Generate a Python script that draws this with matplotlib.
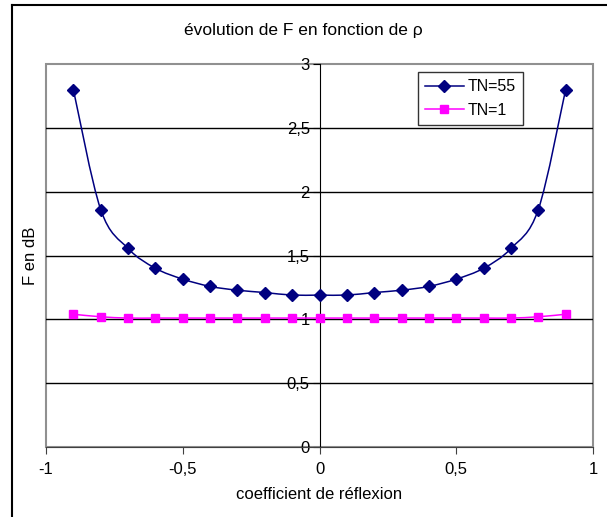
import matplotlib
matplotlib.use('Agg')
import matplotlib.pyplot as plt
import numpy as np
from matplotlib.path import Path
from matplotlib.patches import PathPatch, Rectangle
from matplotlib.lines import Line2D
from matplotlib.ticker import FuncFormatter

plt.rcParams['font.family'] = ['Liberation Sans', 'DejaVu Sans']
narrow = ['Liberation Sans Narrow', 'Liberation Sans', 'DejaVu Sans']

# data
rho = [-0.9, -0.8, -0.7, -0.6, -0.5, -0.4, -0.3, -0.2, -0.1, 0.0,
       0.1, 0.2, 0.3, 0.4, 0.5, 0.6, 0.7, 0.8, 0.9]
f_tn55 = [2.80, 1.86, 1.555, 1.40, 1.315, 1.258, 1.228, 1.21, 1.19, 1.19,
          1.19, 1.21, 1.228, 1.258, 1.315, 1.40, 1.555, 1.86, 2.80]
f_tn1 = [1.04, 1.02, 1.01, 1.01, 1.01, 1.01, 1.01, 1.01, 1.01, 1.01,
         1.01, 1.01, 1.01, 1.01, 1.01, 1.01, 1.01, 1.02, 1.04]
labels = ['TN=55', 'TN=1']
colors = ['#000080', '#FF00FF']
markers = ['D', 's']


def smooth_path(x, y):
    # Excel-like smoothed line: cubic Bezier through the points
    x = np.asarray(x, float)
    y = np.asarray(y, float)
    verts = [(x[0], y[0])]
    codes = [Path.MOVETO]
    n = len(x)
    for i in range(n - 1):
        i0 = max(i - 1, 0)
        i3 = min(i + 2, n - 1)
        c1 = (x[i] + (x[i + 1] - x[i0]) / 6, y[i] + (y[i + 1] - y[i0]) / 6)
        c2 = (x[i + 1] - (x[i3] - x[i]) / 6, y[i + 1] - (y[i3] - y[i]) / 6)
        verts += [c1, c2, (x[i + 1], y[i + 1])]
        codes += [Path.CURVE4] * 3
    return Path(verts, codes)


W, H = 607, 517
fig = plt.figure(figsize=(W / 100, H / 100), dpi=100)
ax = fig.add_axes([46 / W, 1 - 447 / H, (593 - 46) / W, (447 - 64) / H])

for x, y, lab, c, m in zip([rho, rho], [f_tn55, f_tn1], labels, colors, markers):
    ax.add_patch(PathPatch(smooth_path(x, y), fill=False, edgecolor=c, lw=1.1, zorder=3))
    ax.plot(x, y, linestyle='none', marker=m, color=c, markersize=6 if m == 'D' else 6,
            zorder=4)

ax.set_xlim(-1, 1)
ax.set_ylim(0, 3)
ax.set_xticks([-1, -0.5, 0, 0.5, 1])
ax.set_yticks([0, 0.5, 1, 1.5, 2, 2.5, 3])
fmt = FuncFormatter(lambda v, p: ('%g' % v).replace('.', ','))
ax.xaxis.set_major_formatter(fmt)
ax.yaxis.set_major_formatter(fmt)

for yv in [0.5, 1, 1.5, 2, 2.5]:
    ax.axhline(yv, color='black', lw=1, zorder=1)

ax.spines['top'].set_visible(False)
ax.spines['right'].set_visible(False)
ax.spines['left'].set_position(('data', 0))
ax.spines['left'].set_color('black')
ax.spines['bottom'].set_color('#404040')
ax.spines['left'].set_zorder(2)
ax.add_patch(Rectangle((0, 0), 1, 1, transform=ax.transAxes, fill=False,
                       edgecolor='#909090', lw=1.5, zorder=0, clip_on=False))
ax.tick_params(axis='y', direction='out', length=5, labelsize=12, pad=2)
ax.tick_params(axis='x', direction='out', length=5, labelsize=12, pad=6, color='#404040')

ax.set_xlabel('coefficient de réflexion', fontsize=12, family=narrow, labelpad=7)
ax.text(-0.028, 0.5, 'F en dB', transform=ax.transAxes, rotation=90, fontsize=12,
        family=narrow, ha='center', va='center')
fig.text(0.5, 1 - 31 / H, 'évolution de F en fonction de ρ', fontsize=12.5, family=narrow,
         ha='center', va='center')

leg = ax.legend(handles=[Line2D([], [], color=c, marker=m, lw=1.1, markersize=6)
                         for c, m in zip(colors, markers)],
                labels=labels, loc='upper left', bbox_to_anchor=((418 - 46) / 547, 1 - 8 / 383),
                fontsize=11.5, frameon=True, fancybox=False, edgecolor='black',
                borderpad=0.45, handlelength=2.4, handletextpad=0.25, labelspacing=0.55,
                borderaxespad=0)
leg.get_frame().set_linewidth(1)

# outer chart border
fig.add_artist(Line2D([12 / W, 12 / W], [0, 1 - 5 / H], transform=fig.transFigure,
                      color='black', lw=1.5))
fig.add_artist(Line2D([12 / W, 1], [1 - 5 / H, 1 - 5 / H], transform=fig.transFigure,
                      color='black', lw=1.5))

fig.savefig('out.png', dpi=100)
